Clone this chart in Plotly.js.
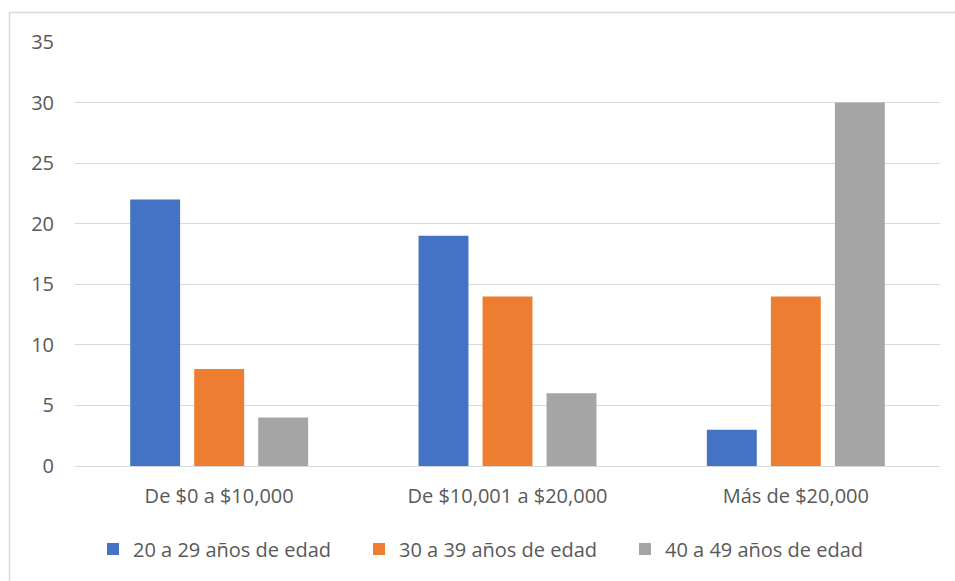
<!DOCTYPE html>
<html>
<head>
<meta charset="utf-8">
<script src="https://cdn.plot.ly/plotly-3.0.1.min.js"></script>
<style>
  html, body { margin: 0; padding: 0; background: #fff; }
  #chart { width: 955px; height: 581px; }
</style>
</head>
<body>
<div id="chart"></div>
<script>
// Income brackets and respondent counts by age group
const categories = ["De $0 a $10,000", "De $10,001 a $20,000", "Más de $20,000"];
const seriesNames = ["20 a 29 años de edad", "30 a 39 años de edad", "40 a 49 años de edad"];
const age20to29 = [22, 19, 3];
const age30to39 = [8, 14, 14];
const age40to49 = [4, 6, 30];
const yTicks = [0, 5, 10, 15, 20, 25, 30, 35];

const colors = ["#4472C4", "#ED7D31", "#A5A5A5"];
const seriesValues = [age20to29, age30to39, age40to49];
const FONT = "'Open Sans', 'Noto Sans', sans-serif";
const FS = 20;

const traces = seriesValues.map((vals, i) => ({
  type: "bar",
  name: seriesNames[i],
  x: categories,
  y: vals,
  marker: { color: colors[i], line: { width: 0 } },
  hoverinfo: "skip"
}));

// Outer chart frame (left and top edges visible)
const L = 75, R = 15, T = 42, B = 115, W = 955, H = 581;
const pw = W - L - R, ph = H - T - B;
const fx = px => (px - L) / pw;
const fy = py => (H - B - py) / ph;

const layout = {
  width: W,
  height: H,
  margin: { l: L, r: R, t: T, b: B },
  paper_bgcolor: "#ffffff",
  plot_bgcolor: "#ffffff",
  font: { family: FONT, size: FS, color: "#595959" },
  barmode: "group",
  bargap: 0.334,
  bargroupgap: 0.22,
  showlegend: true,
  legend: {
    orientation: "h",
    x: fx(93), xanchor: "left",
    y: fy(549), yanchor: "middle",
    font: { family: FONT, size: FS, color: "#595959" },
    itemwidth: 30,
    entrywidth: 221,
    entrywidthmode: "pixels",
    traceorder: "normal"
  },
  xaxis: {
    type: "category",
    showgrid: false,
    showline: true,
    linecolor: "#d9d9d9",
    linewidth: 1,
    ticks: "",
    tickfont: { family: FONT, size: FS, color: "#595959" },
    ticklabelstandoff: 12,
    fixedrange: true
  },
  yaxis: {
    range: [0, 35],
    tickvals: yTicks,
    ticktext: yTicks.map(String),
    showgrid: true,
    gridcolor: "#d9d9d9",
    gridwidth: 1,
    zeroline: false,
    showline: false,
    ticks: "",
    tickfont: { family: FONT, size: FS, color: "#595959" },
    ticklabelstandoff: 20,
    fixedrange: true
  },
  shapes: [{
    type: "path",
    xref: "paper", yref: "paper",
    path: `M ${fx(9.5)} ${fy(600)} L ${fx(9.5)} ${fy(12.5)} L ${fx(1000)} ${fy(12.5)}`,
    line: { color: "#d9d9d9", width: 1.5 },
    layer: "below"
  }]
};

Plotly.newPlot("chart", traces, layout, { displayModeBar: false, staticPlot: true });
</script>
</body>
</html>
